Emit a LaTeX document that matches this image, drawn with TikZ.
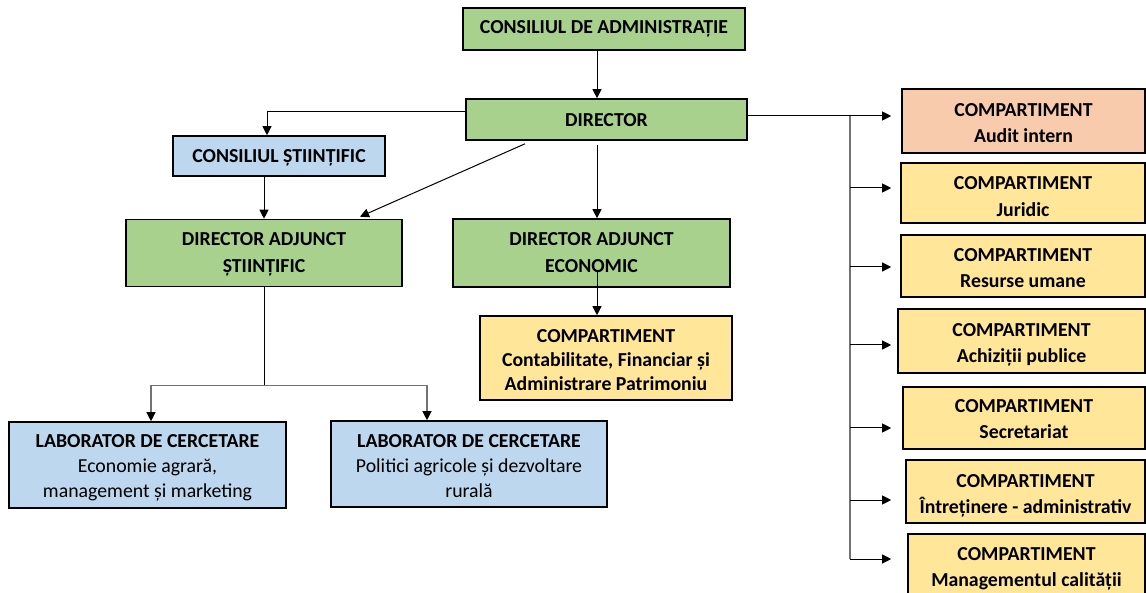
\documentclass[tikz,border=0pt]{standalone}
\usepackage{fontspec}
\setmainfont{Carlito}
\usetikzlibrary{arrows.meta,calc}
\definecolor{gbox}{HTML}{A9D18E}
\definecolor{bbox}{HTML}{BDD7EE}
\definecolor{ybox}{HTML}{FFE699}
\definecolor{sbox}{HTML}{F8CBAD}
\newcommand\topstrut[1]{\rule{0pt}{#1pt}}
\newcommand\botstrut{\rule[-5pt]{0pt}{5pt}}
\begin{document}
\begin{tikzpicture}[x=1pt,y=-1pt,
  box/.style={draw=black, line width=1.6pt, align=center, inner sep=0pt, text=black,
    font=\bfseries\fontsize{19.8}{24}\selectfont},
  sp27/.style={font=\bfseries\fontsize{19.8}{27}\selectfont},
  sp26/.style={font=\bfseries\fontsize{19.8}{26.5}\selectfont},
  sp25/.style={font=\bfseries\fontsize{19.8}{25}\selectfont},
  sp24/.style={font=\bfseries\fontsize{19.8}{24}\selectfont},
  ln/.style={draw=black, line width=1pt},
  gln/.style={draw=black!55, line width=1.2pt},
  arr/.style={ln, -{Triangle[length=9pt,width=9pt,color=black]}},
  garr/.style={gln, -{Triangle[length=9pt,width=9pt,color=black]}}]
\useasboundingbox (0,0) rectangle (1146,593);
\clip (0,0) rectangle (1146,593);
\fill[white] (0,0) rectangle (1146,593);

\coordinate (ax) at (597,0);

\node[box, fill=gbox, minimum width=282, minimum height=42] (cda) at (604,29) {\topstrut{14.8}CONSILIUL DE ADMINISTRAȚIE\botstrut};
\node[box, fill=gbox, minimum width=281, minimum height=41] (dir) at (606.5,119.5) {\topstrut{18.2}DIRECTOR\botstrut};
\node[box, fill=bbox, minimum width=212, minimum height=40] (cs) at (279,156) {\topstrut{18.2}CONSILIUL ȘTIINȚIFIC\botstrut};
\node[box, sp27, fill=gbox, minimum width=276, minimum height=67] (das) at (264,253) {\topstrut{17.2}DIRECTOR ADJUNCT\\ȘTIINȚIFIC\botstrut};
\node[box, sp27, fill=gbox, minimum width=277, minimum height=68] (dae) at (591.5,253) {\topstrut{17.2}DIRECTOR ADJUNCT\\ECONOMIC\botstrut};
\node[box, sp24, fill=ybox, minimum width=252, minimum height=84] (cont) at (606,358) {\topstrut{21.4}COMPARTIMENT\\Contabilitate, Financiar și\\Administrare Patrimoniu\botstrut};
\node[box, sp25, fill=bbox, minimum width=277, minimum height=86] (lab1) at (147.5,465) {\topstrut{19.4}LABORATOR DE CERCETARE\\{\mdseries Economie agrară,}\\{\mdseries management și marketing}\botstrut};
\node[box, sp25, fill=bbox, minimum width=276, minimum height=86] (lab2) at (469,464) {\topstrut{21.8}LABORATOR DE CERCETARE\\{\mdseries Politici agricole și dezvoltare}\\{\mdseries rurală}\botstrut};

\node[box, sp26, fill=sbox, minimum width=243, minimum height=64] (aud) at (1023.5,121) {\topstrut{22.3}COMPARTIMENT\\Audit intern\botstrut};
\node[box, sp26, fill=ybox, minimum width=244, minimum height=60] (jur) at (1023,193) {\topstrut{24.9}COMPARTIMENT\\Juridic\botstrut};
\node[box, sp26, fill=ybox, minimum width=244, minimum height=62] (res) at (1023,266) {\topstrut{22.3}COMPARTIMENT\\Resurse umane\botstrut};
\node[box, sp26, fill=ybox, minimum width=247, minimum height=64] (ach) at (1021.5,341) {\topstrut{21.7}COMPARTIMENT\\Achiziții publice\botstrut};
\node[box, sp26, fill=ybox, minimum width=242, minimum height=62] (sec) at (1024,418) {\topstrut{20.3}COMPARTIMENT\\Secretariat\botstrut};
\node[box, sp26, fill=ybox, minimum width=239, minimum height=63] (intr) at (1025.5,491.5) {\topstrut{22.9}COMPARTIMENT\\Întreținere - administrativ\botstrut};
\node[box, sp26, fill=ybox, minimum width=237, minimum height=68] (man) at (1026.5,568) {\topstrut{16.3}COMPARTIMENT\\Managementul calității\botstrut};

% top chain
\draw[arr] (cda.south -| ax) -- (dir.north -| ax);
\draw[arr] ([yshift=7.5pt]dir.west) -| ([xshift=-12pt]cs.north);
\draw[arr] (cs.south -| das.north) -- (das.north);
\draw[arr] ([xshift=-81.5pt,yshift=-3pt]dir.south) -- ([xshift=96pt,yshift=2pt]das.north);
\draw[arr] ($(dir.south -| ax)+(0,4)$) -- (dae.north -| ax);
\draw[arr] ($(dae.center -| ax)+(0,19)$) -- (cont.north -| ax);

% labs
\coordinate (lj) at ($(das.south)+(0,98)$);
\draw[ln] (das.south) -- (lj);
\draw[garr] (lj) -| ([xshift=3.5pt]lab1.north);
\draw[garr] (lj) -| ([xshift=-42pt]lab2.north);

% right bus
\coordinate (b1) at (850,116);
\coordinate (b2) at (850,188);
\coordinate (b3) at (850,267);
\coordinate (b4) at (850,345);
\coordinate (b5) at (850,428);
\coordinate (b6) at (850,500);
\coordinate (b7) at (850,559);
\draw[gln] (b1) -- (b7);
\draw[arr, shorten >=10pt] ([yshift=3.5pt]dir.east) -- (b1 -| aud.west);
\draw[arr, shorten >=9pt] (b2) -- (b2 -| jur.west);
\draw[arr, shorten >=9pt] (b3) -- (b3 -| res.west);
\draw[arr, shorten >=6pt] (b4) -- (b4 -| ach.west);
\draw[arr, shorten >=11pt] (b5) -- (b5 -| sec.west);
\draw[arr, shorten >=14pt] (b6) -- (b6 -| intr.west);
\draw[arr, shorten >=16pt] (b7) -- (b7 -| man.west);
\end{tikzpicture}
\end{document}
